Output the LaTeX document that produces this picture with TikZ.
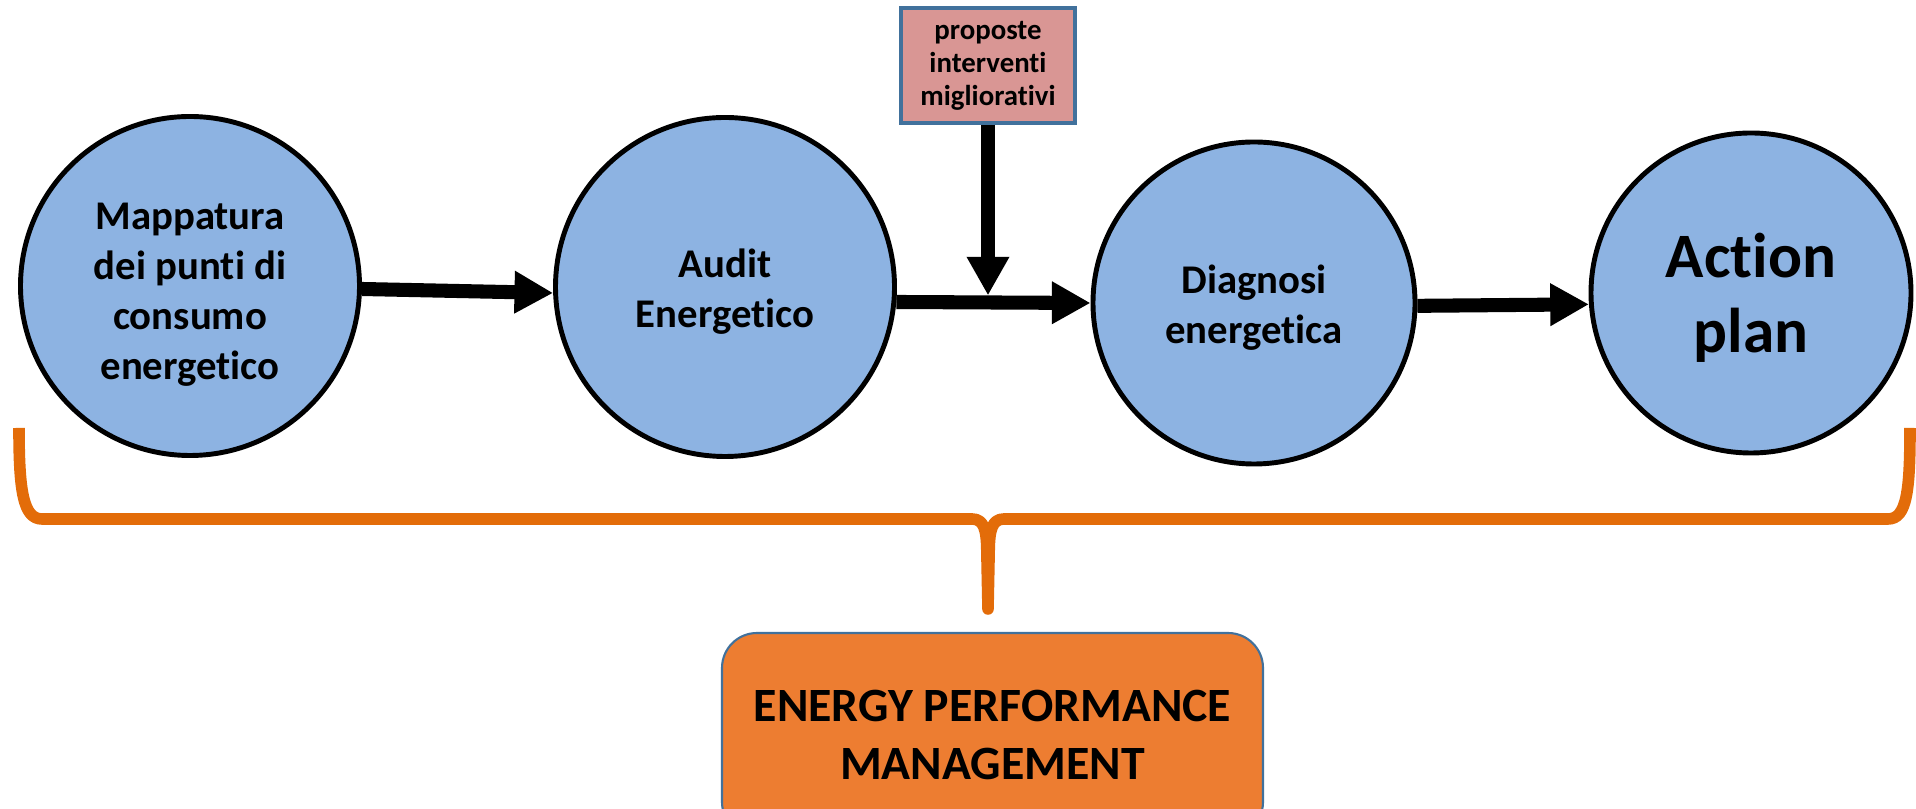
\documentclass[tikz,border=0pt]{standalone}
\usepackage{fontspec}
\setmainfont{Carlito}[Ligatures=NoCommon]
\usetikzlibrary{positioning,arrows.meta}

\definecolor{phasefill}{HTML}{8DB3E2}
\definecolor{propfill}{HTML}{D99694}
\definecolor{edgeblue}{HTML}{41719C}
\definecolor{braceorange}{HTML}{E36C09}
\definecolor{mgmtfill}{HTML}{ED7D31}

\tikzset{
  phase/.style={circle, draw, line width=1.4pt, fill=phasefill, inner sep=0pt,
    minimum size=3.39cm, align=center,
    font=\fontsize{11.6}{14.2}\selectfont\bfseries},
  flow/.style={-{Triangle[length=11pt,width=11.4pt]}, line width=4pt},
}

\begin{document}
\begin{tikzpicture}

\useasboundingbox (0,0) rectangle (19.16,-8.09);

% fasi del processo
\node[phase, text height=55pt] (m1) at (1.90,-2.86) {Mappatura\\dei punti di\\consumo\\energetico};
\node[phase, text height=25pt] (m2) at (7.25,-2.87) {Audit\\Energetico};
\node[phase, text height=25pt, minimum size=3.22cm] (m3) at (12.54,-3.03) {Diagnosi\\energetica};
\node[phase, text height=36.8pt, minimum size=3.20cm, font=\fontsize{18}{21.5}\selectfont\bfseries] (m4) at (17.51,-2.93) {Action\\plan};

% box in alto
\node[rectangle, draw=edgeblue, line width=1.1pt, fill=propfill,
  minimum width=1.74cm, minimum height=1.15cm, inner sep=0pt, align=center,
  font=\fontsize{8.2}{9.4}\selectfont\bfseries] (prop) at (9.88,-0.655)
  {proposte\\interventi\\migliorativi};

% box in basso
\node[rectangle, rounded corners=0.35cm, draw=edgeblue, line width=0.6pt, fill=mgmtfill,
  minimum width=5.41cm, minimum height=2.04cm, inner sep=0pt, align=center,
  font=\fontsize{13.6}{16.5}\selectfont\bfseries] (mgmt) at (9.925,-7.35)
  {ENERGY PERFORMANCE\\MANAGEMENT};

% frecce
\draw[flow] (m1.-1) -- (m2.182);
\draw[flow] (m2.-5) -- (m3.180);
\draw[flow] (m3.-1) -- (m4.184);
\path (m2.-5) -- (m3.180) coordinate[pos=0.46] (hit);
\draw[flow] (prop) -- ([yshift=2pt]prop |- hit);

% graffa
\draw[braceorange, line width=3.3pt, line join=round]
  (0.19,-4.28) .. controls (0.19,-4.90) and (0.23,-5.19) .. (0.42,-5.19)
  -- (9.72,-5.19) .. controls (9.84,-5.19) and (9.865,-5.30) .. (9.868,-5.50)
  -- (9.88,-6.09) -- (9.892,-5.50)
  .. controls (9.895,-5.30) and (9.92,-5.19) .. (10.04,-5.19)
  -- (18.88,-5.19) .. controls (19.07,-5.19) and (19.10,-4.90) .. (19.10,-4.28);

\end{tikzpicture}
\end{document}
